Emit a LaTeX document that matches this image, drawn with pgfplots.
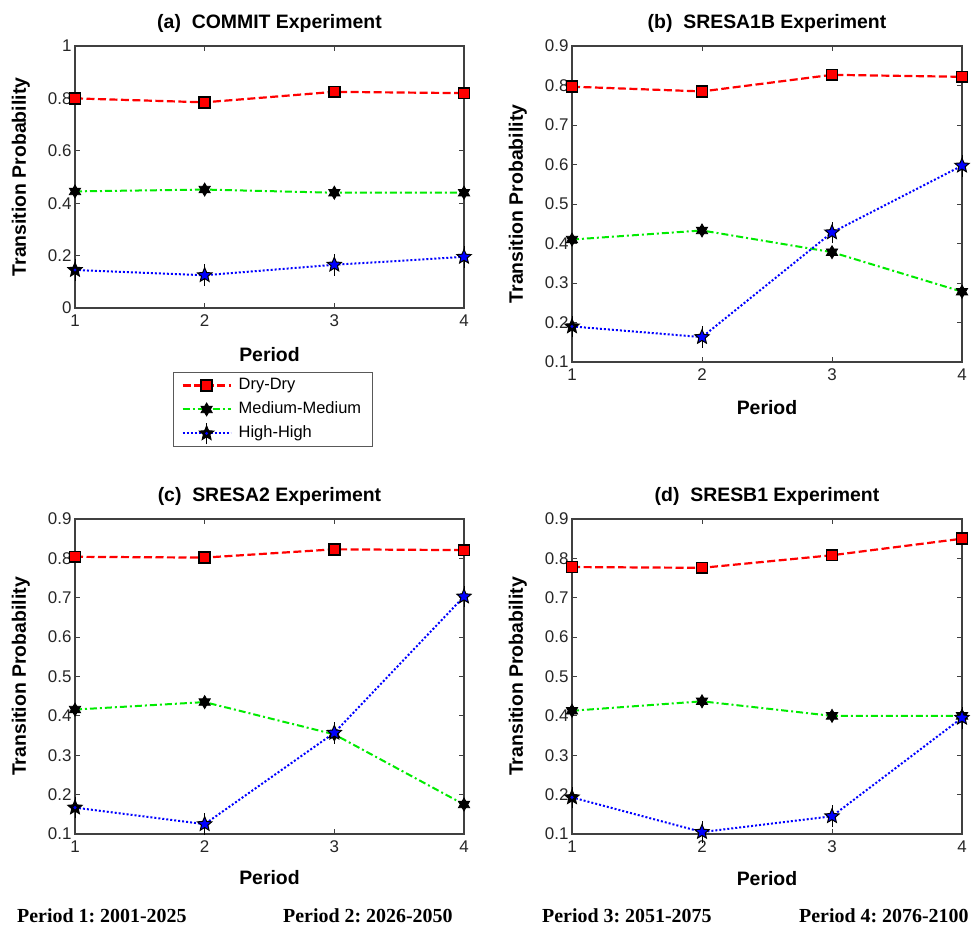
\documentclass[border=0pt]{standalone}
\usepackage{pgfplots}
\pgfplotsset{compat=1.18}
\usepackage{fontspec}
\setmainfont{Liberation Sans}
\newfontfamily\timesfont{Liberation Serif}
\frenchspacing

\definecolor{mygreen}{RGB}{0,235,0}
\definecolor{myblue}{RGB}{0,0,255}
\definecolor{myred}{RGB}{255,0,0}

\pgfdeclareplotmark{medstar}{%
  \pgfpathmoveto{\pgfqpointpolar{90}{\pgfplotmarksize}}%
  \pgfpathlineto{\pgfqpointpolar{210}{\pgfplotmarksize}}%
  \pgfpathlineto{\pgfqpointpolar{330}{\pgfplotmarksize}}%
  \pgfpathclose
  \pgfpathmoveto{\pgfqpointpolar{270}{\pgfplotmarksize}}%
  \pgfpathlineto{\pgfqpointpolar{30}{\pgfplotmarksize}}%
  \pgfpathlineto{\pgfqpointpolar{150}{\pgfplotmarksize}}%
  \pgfpathclose
  \pgfusepathqfillstroke
}
\pgfdeclareplotmark{histar}{%
  \pgfpathmoveto{\pgfpoint{0pt}{-1.45\pgfplotmarksize}}%
  \pgfpathlineto{\pgfpoint{0pt}{1.45\pgfplotmarksize}}%
  \pgfusepathqstroke
  \pgfpathmoveto{\pgfpointpolar{90}{\pgfplotmarksize}}%
  \pgfpathlineto{\pgfpointpolar{126}{0.45\pgfplotmarksize}}%
  \pgfpathlineto{\pgfpointpolar{162}{\pgfplotmarksize}}%
  \pgfpathlineto{\pgfpointpolar{198}{0.45\pgfplotmarksize}}%
  \pgfpathlineto{\pgfpointpolar{234}{\pgfplotmarksize}}%
  \pgfpathlineto{\pgfpointpolar{270}{0.45\pgfplotmarksize}}%
  \pgfpathlineto{\pgfpointpolar{306}{\pgfplotmarksize}}%
  \pgfpathlineto{\pgfpointpolar{342}{0.45\pgfplotmarksize}}%
  \pgfpathlineto{\pgfpointpolar{18}{\pgfplotmarksize}}%
  \pgfpathlineto{\pgfpointpolar{54}{0.45\pgfplotmarksize}}%
  \pgfpathclose
  \pgfusepathqfillstroke
  \pgfsetfillcolor{myblue}%
  \pgfpathcircle{\pgfpointorigin}{0.22\pgfplotmarksize}%
  \pgfusepathqfill
}

\pgfplotsset{
  panel/.style={
    scale only axis,
    anchor=south west,
    xmin=1, xmax=4, xtick={1,2,3,4},
    tick align=inside,
    major tick length=5bp,
    axis line style={black!75, line width=1.1bp},
    every tick/.style={black!75, line width=0.9bp},
    tick label style={font=\fontsize{17}{19}\selectfont, text=black!85},
    /pgf/number format/assume math mode=true,
    xticklabel style={yshift=-3bp},
    label style={font=\bfseries\fontsize{19.5}{22}\selectfont},
    title style={font=\bfseries\fontsize{19.5}{22}\selectfont, at={(axis description cs:0.5,1)}, anchor=base, yshift=12bp},
    xlabel={Period}, ylabel={Transition Probability},
    ylabel style={at={(axis description cs:-0.139,0.5)}, anchor=center},
    clip=false,
    legend image code/.code={\draw[mark repeat=2, mark phase=2] plot coordinates {(0bp,0bp) (24bp,0bp) (48bp,0bp)};},
  },
  dry/.style={myred, line width=2.2bp, dash pattern=on 8bp off 3.5bp, mark=square*, mark size=5.4bp,
    mark options={solid, fill=myred, draw=black, line width=1.6bp}},
  med/.style={mygreen, line width=2bp, dash pattern=on 7bp off 3bp on 2bp off 3bp, mark=medstar, mark size=6.5bp,
    mark options={solid, fill=black, draw=black, line width=0.8bp}},
  hi/.style={myblue, line width=2bp, dash pattern=on 2bp off 2bp, mark=histar, mark size=7.5bp,
    mark options={solid, fill=black, draw=black, line width=1bp}},
}

\begin{document}
\begin{tikzpicture}
\useasboundingbox (0bp,0bp) rectangle (971bp,927bp);

% (a)
\begin{axis}[panel, at={(75bp,619bp)}, width=389bp, height=262bp,
  ymin=0, ymax=1, ytick={0,0.2,0.4,0.6,0.8,1},
  title={(a)\ \ COMMIT Experiment},
  xlabel style={at={(axis description cs:0.5,-0.206)}, anchor=base},
  legend style={at={(axis description cs:0.252,-0.244)}, anchor=north west,
    draw=black!65, line width=1bp, font=\fontsize{16.5}{19}\selectfont,
    inner xsep=8bp, inner ysep=1bp,
    nodes={inner sep=3bp, text height=13bp, text depth=5bp},
    /tikz/every odd column/.append style={column sep=4bp}},
  legend cell align=left]
\addplot[dry] coordinates {(1,0.800) (2,0.785) (3,0.825) (4,0.820)};
\addlegendentry{Dry-Dry}
\addplot[med] coordinates {(1,0.445) (2,0.452) (3,0.440) (4,0.440)};
\addlegendentry{Medium-Medium}
\addplot[hi] coordinates {(1,0.145) (2,0.125) (3,0.165) (4,0.195)};
\addlegendentry{High-High}
\end{axis}

% (b)
\begin{axis}[panel, at={(572bp,565bp)}, width=390bp, height=316bp,
  ymin=0.1, ymax=0.9, ytick={0.1,0.2,0.3,0.4,0.5,0.6,0.7,0.8,0.9},
  title={(b)\ \ SRESA1B Experiment},
  xlabel style={at={(axis description cs:0.5,-0.165)}, anchor=base}]
\addplot[dry] coordinates {(1,0.797) (2,0.785) (3,0.827) (4,0.822)};
\addplot[med] coordinates {(1,0.410) (2,0.433) (3,0.378) (4,0.278)};
\addplot[hi] coordinates {(1,0.190) (2,0.163) (3,0.428) (4,0.597)};
\end{axis}

% (c)
\begin{axis}[panel, at={(75bp,93bp)}, width=389bp, height=315bp,
  ymin=0.1, ymax=0.9, ytick={0.1,0.2,0.3,0.4,0.5,0.6,0.7,0.8,0.9},
  title={(c)\ \ SRESA2 Experiment},
  xlabel style={at={(axis description cs:0.5,-0.159)}, anchor=base}]
\addplot[dry] coordinates {(1,0.804) (2,0.802) (3,0.823) (4,0.821)};
\addplot[med] coordinates {(1,0.416) (2,0.435) (3,0.353) (4,0.175)};
\addplot[hi] coordinates {(1,0.167) (2,0.125) (3,0.357) (4,0.703)};
\end{axis}

% (d)
\begin{axis}[panel, at={(572bp,93bp)}, width=390bp, height=315bp,
  ymin=0.1, ymax=0.9, ytick={0.1,0.2,0.3,0.4,0.5,0.6,0.7,0.8,0.9},
  title={(d)\ \ SRESB1 Experiment},
  xlabel style={at={(axis description cs:0.5,-0.162)}, anchor=base}]
\addplot[dry] coordinates {(1,0.778) (2,0.776) (3,0.808) (4,0.850)};
\addplot[med] coordinates {(1,0.413) (2,0.437) (3,0.400) (4,0.400)};
\addplot[hi] coordinates {(1,0.193) (2,0.105) (3,0.145) (4,0.395)};
\end{axis}

\begin{scope}[every node/.style={anchor=base west, inner sep=0pt, font=\timesfont\bfseries\fontsize{20}{24}\selectfont}]
\node at (17bp,5bp) {Period 1: 2001-2025};
\node at (283bp,5bp) {Period 2: 2026-2050};
\node at (542bp,5bp) {Period 3: 2051-2075};
\node at (799bp,5bp) {Period 4: 2076-2100};
\end{scope}
\end{tikzpicture}
\end{document}
